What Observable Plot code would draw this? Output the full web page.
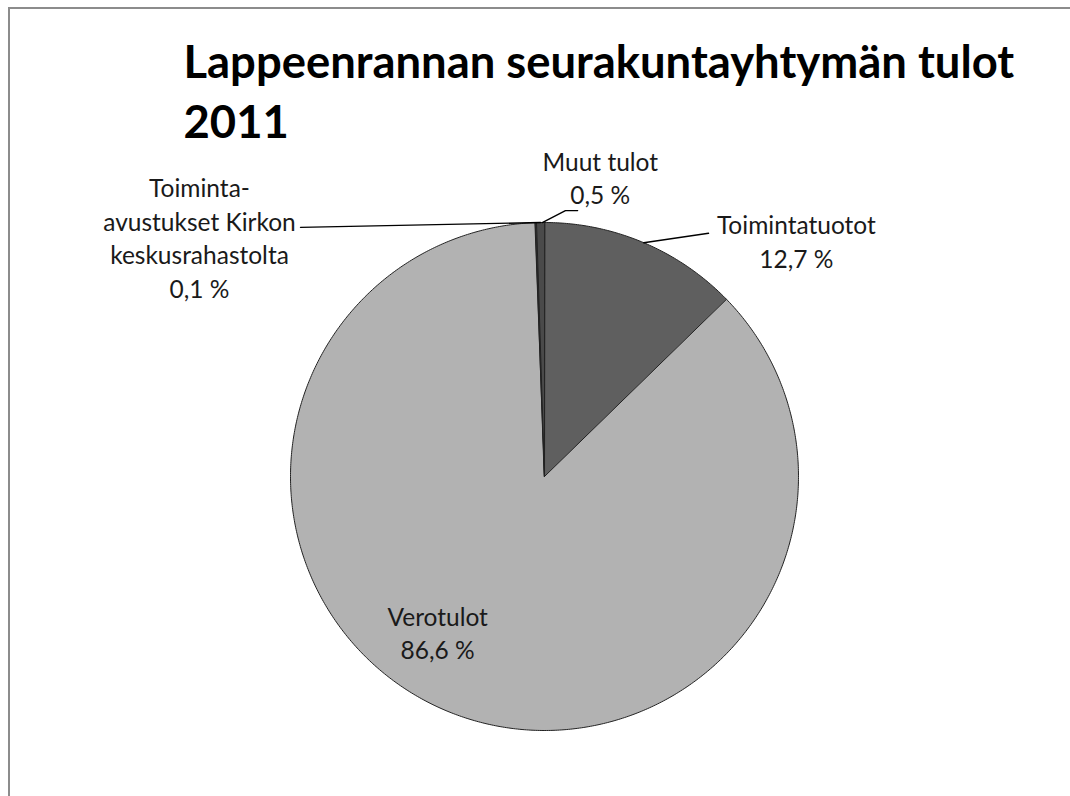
<!DOCTYPE html>
<html>
<head>
<meta charset="utf-8">
<script src="https://cdn.jsdelivr.net/npm/d3@7"></script>
<script src="https://cdn.jsdelivr.net/npm/@observablehq/plot@0.6"></script>
<style>
  html, body { margin: 0; padding: 0; background: #fff; overflow: hidden; }
  #wrap { position: relative; width: 1070px; height: 796px; overflow: hidden; background: #fff; }
  #chart { position: absolute; left: 0; top: 0; }
  .edge { position: absolute; background: #8c8c8c; pointer-events: none; }
  #edge-left { left: 8px; top: 7px; width: 2px; height: 789px; }
  #edge-top { left: 8px; top: 7px; width: 1062px; height: 2px; }
</style>
</head>
<body>
<div id="wrap">
  <div id="chart"></div>
  <div class="edge" id="edge-left"></div>
  <div class="edge" id="edge-top"></div>
</div>
<script>
// ---- data ----
const title = "Lappeenrannan seurakuntayhtymän tulot\n2011";
const categories = ["Toimintatuotot", "Verotulot", "Toiminta-avustukset Kirkon keskusrahastolta", "Muut tulot"];
const shares = [12.7, 86.6, 0.1, 0.5];
const labelTexts = ["Toimintatuotot\n12,7 %", "Verotulot\n86,6 %", "Toiminta-\navustukset Kirkon\nkeskusrahastolta\n0,1 %", "Muut tulot\n0,5 %"];
const colors = ["#5f5f5f", "#b2b2b2", "#303030", "#4a4a4a"];

// ---- layout (polar positions relative to pie: angle in degrees clockwise from top, radius in pie radii) ----
const labelPolar = [[43.4, 1.443], [-139.6, 0.649], [-48.7, 1.808], [9.6, 1.317]];
const leaderPolar = [
  [[23, 1], [34.0, 1.155]],
  null,
  [[-0.9, 1], [-44.4, 1.373]],
  [[-0.5, 1], [4.5, 1.050], [7.1, 1.055]]
];

const rad = d => d * Math.PI / 180;
const polar = ([a, r]) => ({x: r * Math.sin(rad(a)), y: r * Math.cos(rad(a))});

const total = d3.sum(shares);
const slicePts = [];
let cum = 0;
categories.forEach((name, i) => {
  const a0 = cum / total * 360, a1 = (cum + shares[i]) / total * 360;
  cum += shares[i];
  slicePts.push({name, x: 0, y: 0});
  const n = Math.max(2, Math.ceil((a1 - a0) / 0.5) + 1);
  for (let k = 0; k < n; ++k) {
    const a = a0 + (a1 - a0) * k / (n - 1);
    slicePts.push({name, ...polar([a, 1])});
  }
});

const leaderPts = [];
leaderPolar.forEach((pts, i) => {
  if (!pts) return;
  pts.forEach(p => leaderPts.push({name: categories[i], ...polar(p)}));
});

const labels = categories.map((name, i) => ({name, text: labelTexts[i], ...polar(labelPolar[i])}));

const chart = Plot.plot({
  width: 1070,
  height: 796,
  margin: 0,
  style: {background: "transparent"},
  x: {domain: [-1, 1], range: [290, 798], axis: null},
  y: {domain: [-1, 1], range: [730, 222], axis: null},
  color: {domain: categories, range: colors},
  marks: [
    Plot.line(slicePts, {x: "x", y: "y", z: "name", fill: "name", stroke: "#222", strokeWidth: 1, curve: "linear-closed"}),
    Plot.line(leaderPts, {x: "x", y: "y", z: "name", stroke: "#000", strokeWidth: 1.4}),
    Plot.text(labels, {x: "x", y: "y", text: "text", fontSize: 24.5, lineHeight: 1.37, lineAnchor: "top", textAnchor: "middle", fill: "#1a1a1a", fontFamily: "Lato"}),
    Plot.text([title], {frameAnchor: "top-left", textAnchor: "start", lineAnchor: "top", dx: 183, dy: 35.4, fontSize: 45.4, fontWeight: "bold", lineHeight: 1.32, fill: "#000", fontFamily: "Lato"})
  ]
});
document.getElementById("chart").appendChild(chart);
</script>
</body>
</html>
